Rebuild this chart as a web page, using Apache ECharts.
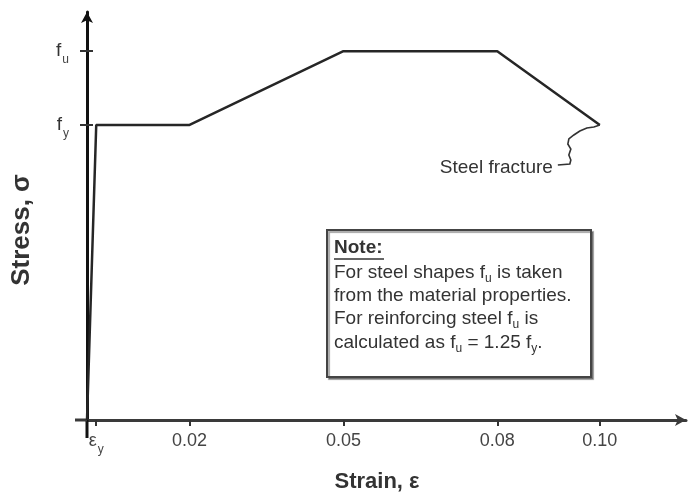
<!DOCTYPE html>
<html>
<head>
<meta charset="utf-8">
<script src="https://cdn.jsdelivr.net/npm/echarts@6/dist/echarts.min.js"></script>
<style>
  html, body { margin: 0; padding: 0; background: #fff; }
  #chart { width: 688px; height: 495px; }
</style>
</head>
<body>
<div id="chart"></div>
<script>
// Idealised stress-strain curve for steel (stress in units of f_y)
const strain = [0, 0.0018, 0.02, 0.05, 0.08, 0.10];
const stress = [0, 1.0, 1.0, 1.25, 1.25, 1.0];

// Axis ticks and their labels
const xTickValues = [0.0018, 0.02, 0.05, 0.08, 0.10];
const xTickLabels = ['{e|ε}{s|y}', '0.02', '0.05', '0.08', '0.10'];
const yTickValues = [1.0, 1.25];
const yTickLabels = ['{f|f}{s|y}', '{f|f}{s|u}'];
const xAxisTitle = 'Strain, ε';
const yAxisTitle = 'Stress, σ';

// Fracture point and note text
const fracturePoint = [0.10, 1.0];
const fractureLabel = 'Steel fracture';
const noteTitle = 'Note:';
const noteLines = [
  'For steel shapes f{s|u} is taken',
  'from the material properties.',
  'For reinforcing steel f{s|u} is',
  'calculated as f{s|u} = 1.25 f{s|y}.'
];

const FONT = '"Liberation Sans", Arial, sans-serif';
const X_MAX = 0.1168, Y_MAX = 1.383;
const GRID = { left: 87, right: 2, top: 12, bottom: 75 };

function pick(values, labels) {
  return function (v) {
    for (let i = 0; i < values.length; i++) {
      if (Math.abs(values[i] - v) < 1e-9) return labels[i];
    }
    return '';
  };
}

const subRich = {
  s: { fontSize: 12, lineHeight: 12, padding: [12, 0, 0, 1], verticalAlign: 'top', color: '#444', fontFamily: FONT },
  e: { fontSize: 18, lineHeight: 18, verticalAlign: 'top', color: '#444', fontFamily: FONT },
  f: { fontSize: 19, lineHeight: 19, verticalAlign: 'top', color: '#333', fontFamily: FONT }
};

const chart = echarts.init(document.getElementById('chart'));

const baseX = { type: 'value', min: 0, max: X_MAX, splitLine: { show: false } };
const baseY = { type: 'value', min: 0, max: Y_MAX, splitLine: { show: false }, position: 'left' };

chart.setOption({
  animation: false,
  backgroundColor: '#fff',
  grid: Object.assign({ outerBoundsMode: 'none' }, GRID),
  xAxis: [
    Object.assign({}, baseX, {
      axisLine: { symbol: ['none', 'arrow'], symbolSize: [9, 11],
        lineStyle: { color: '#3a3a3a', width: 3 } },
      axisTick: { show: true, customValues: xTickValues, length: 6, lineStyle: { color: '#333', width: 2 } },
      axisLabel: { customValues: xTickValues, formatter: pick(xTickValues, xTickLabels),
        margin: 12, color: '#444', fontSize: 18, fontFamily: FONT, rich: subRich }
    }),
    Object.assign({}, baseX, {
      axisLine: { show: false },
      axisTick: { show: true, inside: true, customValues: xTickValues, length: 5, lineStyle: { color: '#333', width: 2 } },
      axisLabel: { show: false }
    })
  ],
  yAxis: [
    Object.assign({}, baseY, {
      axisLine: { symbol: ['none', 'arrow'], symbolSize: [9, 11],
        lineStyle: { color: '#111', width: 3 } },
      axisTick: { show: true, customValues: yTickValues, length: 7, lineStyle: { color: '#333', width: 2 } },
      axisLabel: { customValues: yTickValues, formatter: pick(yTickValues, yTickLabels),
        margin: 18, color: '#333', fontSize: 19, fontFamily: FONT, rich: subRich }
    }),
    Object.assign({}, baseY, {
      axisLine: { show: false },
      axisTick: { show: true, inside: true, customValues: yTickValues, length: 6, lineStyle: { color: '#333', width: 2 } },
      axisLabel: { show: false }
    })
  ],
  series: [{
    type: 'line',
    xAxisIndex: 0,
    yAxisIndex: 0,
    data: strain.map((s, i) => [s, stress[i]]),
    symbol: 'none',
    z: 5,
    lineStyle: { color: '#262626', width: 2.5 }
  }]
});

// Annotations: axis titles and overhangs, fracture leader + label, and the note box
const origin = chart.convertToPixel({ xAxisIndex: 0, yAxisIndex: 0 }, [0, 0]);
const fp = chart.convertToPixel({ xAxisIndex: 0, yAxisIndex: 0 }, fracturePoint);
const squiggle = [[0, 0], [-6, 2], [-13, 3], [-20, 6], [-26, 10], [-31, 14], [-32, 19], [-29, 24],
  [-31, 30], [-29, 35], [-30, 39], [-42, 40]].map(d => [fp[0] + d[0], fp[1] + d[1]]);

const boxL = 327, boxT = 230, boxW = 264, boxH = 147;
const textX = boxL + 7;
const NOTE_FS = 19;
const noteStyle = { fontSize: NOTE_FS, lineHeight: 21, fill: '#333', fontFamily: FONT,
  rich: { s: { fontSize: 12, lineHeight: 12, padding: [11, 0, 0, 0], verticalAlign: 'top', fill: '#333', color: '#333', fontFamily: FONT } } };
const noteCenters = [272, 295, 318, 342];

const graphics = [
  { type: 'text', z: 10, x: 377, y: 482,
    style: { text: xAxisTitle, align: 'center', verticalAlign: 'middle', fontSize: 22, fontWeight: 'bold', fill: '#333', fontFamily: FONT } },
  { type: 'text', z: 10, x: 22, y: 230, rotation: Math.PI / 2,
    style: { text: yAxisTitle, align: 'center', verticalAlign: 'middle', fontSize: 26, fontWeight: 'bold', fill: '#333', fontFamily: FONT } },
  { type: 'line', z: 4, shape: { x1: origin[0], y1: origin[1], x2: origin[0], y2: origin[1] + 18 },
    style: { stroke: '#111', lineWidth: 3 } },
  { type: 'line', z: 4, shape: { x1: origin[0] - 12, y1: origin[1], x2: origin[0], y2: origin[1] },
    style: { stroke: '#3a3a3a', lineWidth: 3 } },
  { type: 'polyline', z: 10, shape: { points: squiggle },
    style: { stroke: '#333', lineWidth: 1.6, fill: null } },
  { type: 'text', z: 10, x: fp[0] - 47, y: fp[1] + 43,
    style: { text: fractureLabel, align: 'right', verticalAlign: 'middle', fontSize: 19, fill: '#333', fontFamily: FONT } },
  { type: 'rect', z: 10, shape: { x: boxL, y: boxT, width: boxW, height: boxH },
    style: { fill: '#fff', stroke: '#444', lineWidth: 2, shadowColor: 'rgba(0,0,0,0.35)', shadowOffsetX: 2, shadowOffsetY: 2, shadowBlur: 1 } },
  { type: 'text', z: 11, x: textX, y: 248,
    style: { text: noteTitle, verticalAlign: 'middle', fontSize: NOTE_FS, fontWeight: 'bold', fill: '#333', fontFamily: FONT } },
  { type: 'line', z: 11, shape: { x1: textX, y1: 259, x2: textX + 50, y2: 259 },
    style: { stroke: '#333', lineWidth: 1.5 } }
];
noteLines.forEach((line, i) => {
  graphics.push({ type: 'text', z: 11, x: textX, y: noteCenters[i] - 10,
    style: Object.assign({ text: line, verticalAlign: 'top' }, noteStyle) });
});
chart.setOption({ graphic: graphics });
</script>
</body>
</html>
